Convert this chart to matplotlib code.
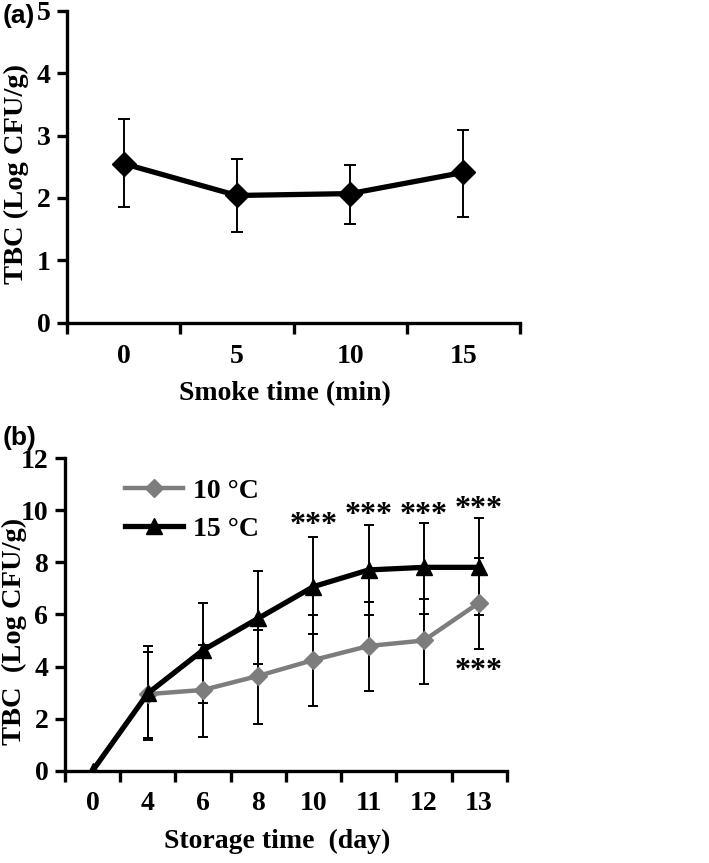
import numpy as np
import matplotlib
matplotlib.use("Agg")
import matplotlib.pyplot as plt

# panel (a): smoke time
smoke_cats = ["0", "5", "10", "15"]
smoke_tbc = [2.55, 2.04, 2.07, 2.41]
smoke_hi = [3.27, 2.62, 2.53, 3.09]
smoke_lo = [1.86, 1.45, 1.59, 1.69]

# panel (b): storage time
days = ["0", "4", "6", "8", "10", "11", "12", "13"]
tbc10 = [np.nan, 2.94, 3.10, 3.64, 4.25, 4.79, 5.00, 6.45]
hi10 = [np.nan, 4.57, 4.83, 5.41, 5.98, 6.47, 6.61, 8.16]
lo10 = [np.nan, 1.18, 1.31, 1.79, 2.49, 3.07, 3.33, 4.66]
tbc15 = [0.0, 2.97, 4.63, 5.85, 7.07, 7.71, 7.81, 7.81]
hi15 = [np.nan, 4.79, 6.43, 7.68, 8.97, 9.44, 9.50, 9.72]
lo15 = [np.nan, 1.24, 2.61, 4.09, 5.25, 5.96, 6.02, 5.96]

# significance marks: (category index, y)
stars = [(4, 9.73), (5, 10.12), (6, 10.12), (7, 10.33), (7, 4.12)]

serif = "Liberation Serif"
plt.rcParams["font.family"] = serif
plt.rcParams["font.weight"] = "bold"
plt.rcParams["axes.linewidth"] = 2.4


def style_axis(ax, ncat, ymax, ystep):
    ax.spines["top"].set_visible(False)
    ax.spines["right"].set_visible(False)
    ax.set_xlim(-0.5, ncat - 0.5)
    ax.set_ylim(0, ymax)
    ax.set_yticks(np.arange(0, ymax + 0.01, ystep))
    ax.set_xticks(np.arange(ncat))
    ax.set_xticks(np.arange(ncat + 1) - 0.5, minor=True)
    ax.tick_params(axis="x", which="major", length=0, pad=15, labelsize=20)
    ax.tick_params(axis="x", which="minor", length=8, width=2.4, direction="out")
    ax.tick_params(axis="y", length=7, width=2.4, direction="out", pad=5, labelsize=20)
    for lab in ax.get_xticklabels() + ax.get_yticklabels():
        lab.set_fontweight("bold")


fig = plt.figure(figsize=(7.09, 8.63), dpi=100)

# ---- (a)
ax1 = fig.add_axes([0.0945, 0.626, 0.639, 0.3615])
xa = np.arange(len(smoke_cats))
ya = np.array(smoke_tbc)
ax1.errorbar(xa, ya, yerr=[ya - np.array(smoke_lo), np.array(smoke_hi) - ya],
             fmt="none", ecolor="black", elinewidth=1.4, capsize=4.5, capthick=1.4, zorder=1)
ax1.plot(xa, ya, color="black", lw=3.8, marker="D", markersize=12,
         solid_joinstyle="round", zorder=2)
style_axis(ax1, len(smoke_cats), 5, 1)
ax1.set_xticklabels(smoke_cats)
ax1.set_xlabel("Smoke time (min)", fontsize=20, fontweight="bold")
ax1.set_ylabel("TBC (Log CFU/g)", fontsize=20.5, fontweight="bold")
ax1.xaxis.set_label_coords(0.48, -0.188)
ax1.yaxis.set_label_coords(-0.084, 0.478)
fig.text(0.004, 0.982, "(a)", family="Liberation Sans", fontsize=19,
         fontweight="bold", va="center", ha="left")

# ---- (b)
ax2 = fig.add_axes([0.0917, 0.107, 0.623, 0.362])
xb = np.arange(len(days))
y10 = np.array(tbc10)
y15 = np.array(tbc15)
ax2.errorbar(xb, y15, yerr=[y15 - np.array(lo15), np.array(hi15) - y15],
             fmt="none", ecolor="black", elinewidth=1.4, capsize=3.5, capthick=1.4, zorder=1)
ax2.errorbar(xb, y10, yerr=[y10 - np.array(lo10), np.array(hi10) - y10],
             fmt="none", ecolor="black", elinewidth=1.4, capsize=3.5, capthick=1.4, zorder=1)
ax2.plot(xb, y10, color="#7d7d7d", lw=3.2, marker="D", markersize=9,
         solid_joinstyle="round", label="10 °C", zorder=2)
ax2.plot(xb, y15, color="black", lw=3.8, marker="^", markersize=11,
         solid_joinstyle="round", label="15 °C", zorder=3)
for i, yy in stars:
    ax2.text(xb[i], yy - 0.3, "***", ha="center", va="center", fontsize=23,
             fontweight="bold")
style_axis(ax2, len(days), 12, 2)
ax2.set_xticklabels(days)
ax2.set_xlabel("Storage time  (day)", fontsize=20, fontweight="bold")
ax2.set_ylabel("TBC  (Log CFU/g)", fontsize=20.5, fontweight="bold")
ax2.xaxis.set_label_coords(0.48, -0.187)
ax2.yaxis.set_label_coords(-0.086, 0.446)
leg = ax2.legend(loc="upper left", bbox_to_anchor=(0.136, 0.935), frameon=False,
                 borderpad=0, borderaxespad=0, handlelength=2.1, fontsize=20,
                 labelspacing=0.45, handletextpad=0.36)
fig.text(0.004, 0.493, "(b)", family="Liberation Sans", fontsize=19,
         fontweight="bold", va="center", ha="left")

fig.savefig("out.png", dpi=100)
